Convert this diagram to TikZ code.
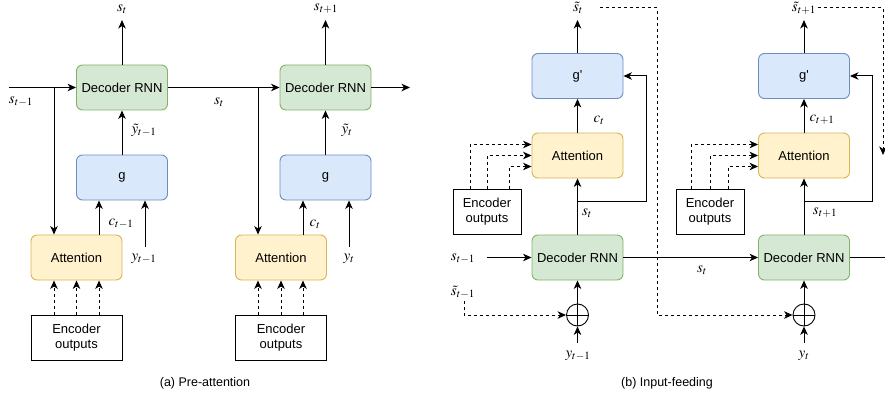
\documentclass[tikz,border=0pt]{standalone}
\usepackage{mathptmx}
\usepackage{fontspec}
\newfontfamily\boxfont{Liberation Sans}
\usetikzlibrary{arrows.meta,calc}

\definecolor{decfill}{HTML}{D5E8D4}\definecolor{decline}{HTML}{82B366}
\definecolor{gfill}{HTML}{DAE8FC}\definecolor{gline}{HTML}{6C8EBF}
\definecolor{attfill}{HTML}{FFF2CC}\definecolor{attline}{HTML}{D6B656}

\tikzset{
  box/.style={rounded corners=6pt, line width=0.9pt, minimum width=91pt, minimum height=45pt,
              inner sep=0pt, font=\boxfont\fontsize{13}{15}\selectfont},
  decbox/.style={box, fill=decfill, draw=decline},
  gbox/.style={box, fill=gfill, draw=gline},
  attbox/.style={box, fill=attfill, draw=attline},
  encbox/.style={draw=black, fill=white, line width=0.9pt, minimum width=91pt, minimum height=45pt,
                 inner sep=0pt, align=center, font=\boxfont\fontsize{13}{14.5}\selectfont},
  lbl/.style={inner sep=0pt, font=\fontsize{15}{17}\selectfont},
  subcaption/.style={inner sep=0pt, font=\boxfont\fontsize{12.5}{14}\selectfont},
  arr/.style={line width=1pt, -{Stealth[length=8.5pt,width=7.5pt,inset=2.5pt]}},
  plain/.style={line width=1pt},
  darr/.style={arr, dash pattern=on 3pt off 3pt},
  oplus/.style={circle, draw, line width=0.9pt, minimum size=22pt, inner sep=0pt}
}

\begin{document}
\begin{tikzpicture}[x=1pt,y=-1pt]
\useasboundingbox (0,0) rectangle (885,401);

% ---------------- (a) pre-attention ----------------
\node[decbox] (dec1) at (122,87.5) {Decoder RNN};
\node[decbox] (dec2) at (325.5,87.5) {Decoder RNN};
\node[gbox] (g1) at (122,177.5) {g};
\node[gbox] (g2) at (325.5,177.5) {g};
\node[attbox] (att1) at (76.5,257.5) {Attention};
\node[attbox] (att2) at (281,257.5) {Attention};
\node[encbox] (enc1) at (76.5,337.5) {Encoder\\outputs};
\node[encbox] (enc2) at (281,337.5) {Encoder\\outputs};

\coordinate (in1) at (9,87.5);
\coordinate (j1) at (54,87.5);
\coordinate (j2) at (258,87.5);
\coordinate (out2) at (410,87.5);
\coordinate (top1) at (122,20);
\coordinate (top2) at (325.5,20);
\coordinate (cx1) at (99,0);
\coordinate (cx2) at (303,0);
\coordinate (y1) at (145,247);
\coordinate (y2) at (349,247);

\draw[arr] (in1) -- (dec1.west);
\draw[arr] (dec1.east) -- (dec2.west);
\draw[arr] (dec2.east) -- (out2);
\draw[arr] (j1) -- (j1 |- att1.north);
\draw[arr] (j2) -- (j2 |- att2.north);
\draw[arr] (dec1.north) -- (top1);
\draw[arr] (dec2.north) -- (top2);
\draw[arr] (g1.north) -- (dec1.south);
\draw[arr] (g2.north) -- (dec2.south);
\draw[arr] (att1.north -| cx1) -- (g1.south -| cx1);
\draw[arr] (att2.north -| cx2) -- (g2.south -| cx2);
\draw[arr] (y1) -- (y1 |- g1.south);
\draw[arr] (y2) -- (y2 |- g2.south);
\foreach \x in {54,76.5,99}{
  \coordinate (ex) at (\x,0);
  \draw[darr] (enc1.north -| ex) -- (att1.south -| ex);}
\foreach \x in {258,281,303}{
  \coordinate (ex) at (\x,0);
  \draw[darr] (enc2.north -| ex) -- (att2.south -| ex);}

\node[lbl] (la1) at (122,9) {$s_t$};
\node[lbl] (la2) at (326,9) {$s_{t+1}$};
\node[lbl] (la3) at (21,102) {$s_{t-1}$};
\node[lbl] (la4) at (219,102) {$s_t$};
\node[lbl] (la5) at (144,130) {$\tilde{y}_{t-1}$};
\node[lbl] (la6) at (347,130) {$\tilde{y}_t$};
\node[lbl] (la7) at (121,224) {$c_{t-1}$};
\node[lbl] (la8) at (315,224) {$c_t$};
\node[lbl] (la9) at (144,259) {$y_{t-1}$};
\node[lbl] (la10) at (349,259) {$y_t$};
\node[subcaption] (capa) at (205,383) {(a) Pre-attention};

% ---------------- (b) input-feeding ----------------
\node[gbox] (gp1) at (577.5,76) {g'};
\node[gbox] (gp2) at (804,76) {g'};
\node[attbox] (at1) at (577.5,155.5) {Attention};
\node[attbox] (at2) at (804,155.5) {Attention};
\node[decbox] (dr1) at (577.5,257.5) {Decoder RNN};
\node[decbox] (dr2) at (804,257.5) {Decoder RNN};
\node[encbox, minimum width=68pt] (en1) at (487,211.5) {Encoder\\outputs};
\node[encbox, minimum width=68pt] (en2) at (710,211.5) {Encoder\\outputs};
\node[oplus] (ox1) at (577.5,315) {};
\node[oplus] (ox2) at (804,315) {};
\draw[line width=0.9pt] (ox1.north) -- (ox1.south) (ox1.west) -- (ox1.east);
\draw[line width=0.9pt] (ox2.north) -- (ox2.south) (ox2.west) -- (ox2.east);

\coordinate (tp1) at (577.5,20);
\coordinate (tp2) at (804,20);
\coordinate (b1) at (577.5,201);
\coordinate (b2) at (804,201);
\coordinate (r1) at (646,76);
\coordinate (r2) at (872,76);
\coordinate (sin) at (487,257.5);
\coordinate (sout) at (885,257.5);
\coordinate (yi1) at (577.5,343);
\coordinate (yi2) at (804,343);
\coordinate (fb0) at (464,301);
\coordinate (fb0c) at (464,315);
\coordinate (fb1) at (600,8);
\coordinate (fb1c) at (657,8);
\coordinate (fb1d) at (657,315);
\coordinate (fb2) at (818,8);
\coordinate (fb2c) at (883,8);
\coordinate (fb2d) at (883,155);

\draw[arr] (gp1.north) -- (tp1);
\draw[arr] (gp2.north) -- (tp2);
\draw[arr] (at1.north) -- (gp1.south);
\draw[arr] (at2.north) -- (gp2.south);
\draw[arr] (dr1.north) -- (at1.south);
\draw[arr] (dr2.north) -- (at2.south);
\draw[arr] (b1) -| (r1) -- (gp1.east);
\draw[arr] (b2) -| (r2) -- (gp2.east);
\draw[arr] (sin) -- (dr1.west);
\draw[arr] (dr1.east) -- (dr2.west);
\draw[plain] (dr2.east) -- (sout);
\draw[arr] (ox1.north) -- (dr1.south);
\draw[arr] (ox2.north) -- (dr2.south);
\draw[arr] (yi1) -- (ox1.south);
\draw[arr] (yi2) -- (ox2.south);
\draw[darr] (fb0) -- (fb0c) -- (ox1.west);
\draw[darr] (fb1) -- (fb1c) -- (fb1d) -- (ox2.west);
\draw[darr] (fb2) -- (fb2c) -- (fb2d);
\foreach \x/\y in {470/144.5,487/155.5,509/166.5}{
  \coordinate (ep) at (\x,\y);
  \draw[darr] (en1.north -| ep) -- (ep) -- (at1.west |- ep);}
\foreach \x/\y in {691/144.5,710/155.5,728/166.5}{
  \coordinate (ep) at (\x,\y);
  \draw[darr] (en2.north -| ep) -- (ep) -- (at2.west |- ep);}

\node[lbl] (lb1) at (578,8) {$\tilde{s}_t$};
\node[lbl] (lb2) at (804,8) {$\tilde{s}_{t+1}$};
\node[lbl] (lb3) at (599,120) {$c_t$};
\node[lbl] (lb4) at (822,120) {$c_{t+1}$};
\node[lbl] (lb5) at (587,213) {$s_t$};
\node[lbl] (lb6) at (825,213) {$s_{t+1}$};
\node[lbl] (lb7) at (463,259) {$s_{t-1}$};
\node[lbl] (lb8) at (463,292) {$\tilde{s}_{t-1}$};
\node[lbl] (lb9) at (702,270) {$s_t$};
\node[lbl] (lb10) at (578,356) {$y_{t-1}$};
\node[lbl] (lb11) at (804,356) {$y_t$};
\node[subcaption] (capb) at (667,383) {(b) Input-feeding};
\end{tikzpicture}
\end{document}
